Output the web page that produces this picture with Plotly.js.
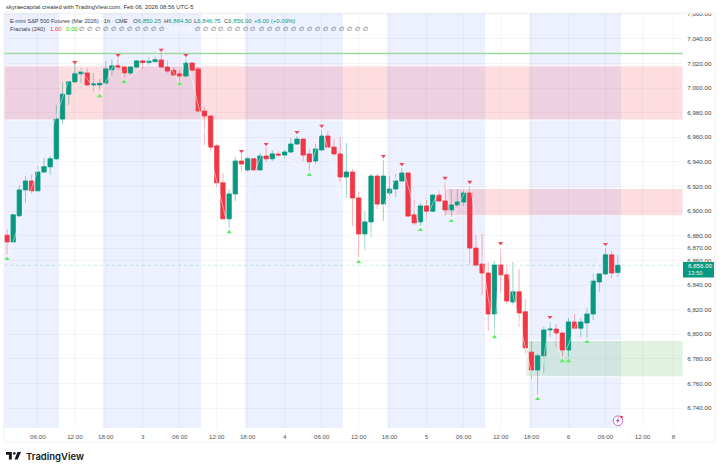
<!DOCTYPE html>
<html><head><meta charset="utf-8">
<script src="https://cdn.plot.ly/plotly-3.0.1.min.js"></script>
<style>html,body{margin:0;padding:0;background:#fff}#c{width:720px;height:471px}</style>
</head><body><div id="c"></div>
<script>
const open=[6880.5,6875,6896.25,6917.25,6924.5,6916.5,6931.75,6936,6942.5,6974.75,6995,7005,7011.5,7012.25,7002.5,7002.5,7004,7014.75,7018,7017,
7012.25,7017,7022,7020.75,7021.5,7022.75,7017,7014.5,7011.5,7009.75,7020.25,7015.5,6981.25,6977.25,6953,6923,6893.75,6914,6940.75,6933.5,
6942.5,6933.5,6944.75,6942.5,6946.5,6945.5,6948,6954.5,6958.5,6946.5,6940.75,6949.75,6961,6952,6946.5,6927.75,6931.75,6910.75,6881.5,6891.25,
6928.5,6905.75,6914.75,6918,6924.5,6931,6897,6891.25,6904.25,6900,6913,6908.25,6901,6905,6907.5,6914.75,6870,6857,6849.75,6816.5,
6856.25,6848.25,6826.25,6834.5,6818.25,6785.5,6771,6782.5,6803.5,6804.25,6801,6787.25,6810,6805,6809.25,6816.5,6842.5,6849,6864.5,6850.25];
const high=[6885.5,6897.5,6921.25,6928.5,6929.5,6936.75,6943.25,6944.75,6986.25,7005,7006.5,7019.5,7016.25,7016.25,7012.25,7007.25,7022,7023.5,7025.25,7018,
7017.5,7022.75,7022.75,7024.5,7025.25,7028.5,7022.75,7017,7014.5,7025.25,7021,7017,6984.5,6978,6954.5,6931,6918,6944,6947.25,6944,
6943.25,6947.25,6952,6949.75,6948.75,6949.75,6959.5,6961,6959.5,6950.5,6954.5,6966,6965,6958.5,6960.25,6955.25,6934.25,6915.5,6900,6930.25,
6930.25,6941.5,6928.5,6930.25,6935,6931.75,6909,6906.5,6909,6914,6917.25,6923.75,6918,6918,6916.5,6920.5,6880.5,6881.5,6858.75,6859.5,
6870,6857,6858.75,6853,6828.75,6794.5,6784,6806,6810.75,6808.5,6802,6813.25,6816.5,6813.25,6821.5,6849,6849.75,6870,6867.5,6864.5];
const low=[6864.5,6874.5,6895.25,6906.5,6914.75,6916.25,6931,6929.5,6941.5,6970.75,6986.25,7004,7004,7001.5,6997.5,6998.5,7002.5,7009.75,7014.75,7008,
7010.5,7016.25,7015.5,7018.75,7020.25,7016.25,7012.25,7010.25,7005,7009,7014.25,6980.5,6953.75,6948.75,6919.5,6893.5,6886.25,6908.25,6931.75,6931.75,
6932.5,6933,6940,6940.75,6944,6942.5,6947.25,6953.75,6940.75,6932.5,6938.25,6948.75,6950.5,6944.75,6923.75,6910.75,6888,6862.75,6868.5,6879,
6901.75,6892,6913,6911.5,6923.75,6895.25,6888.75,6888,6893.5,6899.25,6907.5,6896,6895.25,6902.5,6904.25,6856.25,6854.5,6832,6802.75,6800.25,
6833.5,6824.5,6823.75,6806,6784.75,6763.75,6750.75,6768.5,6797.75,6789.75,6781.5,6781.5,6803.5,6797.75,6797,6811.5,6834.5,6848.25,6845.75,6846.75];
const close=[6875,6897,6917.25,6924.5,6916.5,6931.75,6936,6942.5,6974.75,6995,7005,7011.5,7013,7002.5,7003.25,7003.75,7015.5,7018,7017,7012.25,
7017,7022,7020.75,7021.75,7023,7017,7013.75,7010.5,7009.75,7020.25,7014.5,6981.25,6977.25,6952,6923,6893.75,6914,6940.75,6938.25,6942.5,
6933.5,6944.75,6942.5,6946.5,6945.5,6948,6954.5,6958.5,6945.5,6940,6950.5,6961,6952,6946.5,6927.75,6931.75,6910.75,6881.5,6891.25,6928.5,
6905.75,6928.5,6918,6924.5,6931,6896,6890.5,6904.25,6900,6913,6908.25,6901,6905,6907.5,6914.75,6870,6856.25,6849.75,6816.5,6856.25,
6848.25,6827,6834.5,6817.25,6789,6771,6782.5,6803.5,6804.25,6801,6787.25,6810,6805,6810,6816.5,6843.25,6849,6864.5,6849.75,6856];

const fractalHighIdx=[11,18,25,29,38,42,47,51,61,64,71,75,80,88,97];
const fractalHighVal=[7021,7026.75,7031,7026.75,6948.75,6954.5,6964.25,6969.25,6944.75,6938.25,6927,6923.75,6874,6814,6873.25];
const fractalLowIdx=[0,15,19,28,36,49,57,67,72,79,86,90,91,94];
const fractalLowVal=[6861.25,6993.5,7005,7003.25,6883,6929.5,6858.75,6884.75,6892,6797.75,6747.5,6778.25,6778.25,6793.75];

const zigzagIdx=[0,11,15,18,19,25,28,29,36,42,49,51,57,64,67,71,72,75,79,80,86,88,90,97];
const zigzagVal=[6861,7021,6993.5,7026.75,7005,7031,7003,7027,6883,6954.5,6929.5,6969,6859,6938,6885,6927,6892,6924,6798,6874,6747.5,6814,6778,6873];

const sessionStart=[-0.5,15.56,38.57,61.6,84.6];
const sessionEnd=[8.43,31.44,54.46,77.5,99.5];

const zoneStart=[-0.5,70.9,84.1];
const zoneTop=[7018,6918.5,6795];
const zoneBottom=[6974,6896.25,6765.5];
const zoneFill=['rgba(242,54,69,0.17)','rgba(242,54,69,0.17)','rgba(76,175,80,0.17)'];

const resistance=7028;
const lastPrice=6856;

const yTicks=[7060,7040,7020,7000,6980,6960,6940,6920,6900,6880,6870,6860,6840,6820,6800,6780,6760,6740];
const xTickIdx=[5,11,16,22,28,34,39,45,51,57,62,68,74,80,85,91,97,103,108];
const xTickText=['06:00','12:00','18:00','3','06:00','12:00','18:00','4','06:00','12:00','18:00','5','06:00','12:00','18:00','6','06:00','12:00','8'];

const GREEN='#089981', RED='#F23645';
const FONT='"Liberation Sans", Arial, sans-serif';
const W=720,H=471,L=4,R=683,T=13,B=428;
const px=x=>(x-L)/(R-L), py=y=>(B-y)/(B-T);
const idx=open.map((_,i)=>i);
const fmt=v=>v.toLocaleString('en-US',{minimumFractionDigits:2,maximumFractionDigits:2});

const wicks={type:'candlestick',x:idx,open,high,low,close,hoverinfo:'skip',showlegend:false,whiskerwidth:0,
  increasing:{line:{color:'rgba(8,153,129,0.42)',width:1},fillcolor:'rgba(8,153,129,0.3)'},
  decreasing:{line:{color:'rgba(242,54,69,0.38)',width:1},fillcolor:'rgba(242,54,69,0.3)'}};
const bodies={type:'candlestick',x:idx,open,close,
  high:open.map((o,i)=>Math.max(o,close[i])),low:open.map((o,i)=>Math.min(o,close[i])),
  hoverinfo:'skip',showlegend:false,whiskerwidth:0,
  increasing:{line:{color:GREEN,width:0.5},fillcolor:GREEN},
  decreasing:{line:{color:RED,width:0.5},fillcolor:RED}};
const zigzag={type:'scatter',mode:'lines',x:zigzagIdx,y:zigzagVal,line:{color:'rgba(255,255,255,0.5)',width:1},hoverinfo:'skip',showlegend:false};
const fHigh={type:'scatter',mode:'markers',x:fractalHighIdx,y:fractalHighVal,marker:{symbol:'triangle-down',size:4.5,color:'#F2495A',line:{width:0}},hoverinfo:'skip',showlegend:false};
const fLow={type:'scatter',mode:'markers',x:fractalLowIdx,y:fractalLowVal,marker:{symbol:'triangle-up',size:4.5,color:'#55F055',line:{width:0}},hoverinfo:'skip',showlegend:false};

const shapes=[];
sessionStart.forEach((s,i)=>shapes.push({type:'rect',layer:'below',xref:'x',yref:'paper',x0:s,x1:sessionEnd[i],y0:0,y1:1,fillcolor:'rgba(41,98,255,0.085)',line:{width:0}}));
zoneStart.forEach((s,i)=>shapes.push({type:'rect',layer:'below',xref:'x',yref:'y',x0:s,x1:109.56,y0:zoneBottom[i],y1:zoneTop[i],fillcolor:zoneFill[i],line:{color:'rgba(255,255,255,0.9)',width:1}}));
shapes.push({type:'line',layer:'below',xref:'paper',yref:'y',x0:0,x1:1,y0:resistance,y1:resistance,line:{color:'#9FD8A2',width:1.6}});
shapes.push({type:'line',layer:'below',xref:'paper',yref:'y',x0:0,x1:1,y0:lastPrice,y1:lastPrice,line:{color:'rgba(8,153,129,0.28)',width:0.8,dash:'dot'}});
// page furniture
shapes.push({type:'rect',layer:'above',xref:'paper',yref:'paper',x0:px(0),x1:px(720),y0:py(13),y1:py(0),fillcolor:'#fff',line:{width:0}});
shapes.push({type:'rect',layer:'above',xref:'paper',yref:'paper',x0:px(4),x1:px(715),y0:py(442),y1:py(13),fillcolor:'rgba(0,0,0,0)',line:{color:'#f0f0f0',width:1}});
shapes.push({type:'rect',layer:'above',xref:'paper',yref:'paper',x0:px(683),x1:px(714),y0:py(277.5),y1:py(262),fillcolor:GREEN,line:{width:0}});

function note(text,x,y,size,color,anchor){
  return {text,xref:'paper',yref:'paper',x:px(x),y:py(y),xanchor:anchor||'left',yanchor:'middle',showarrow:false,borderpad:0,
    font:{family:FONT,size,color}};
}
const LEG='#3a3e4a';
const annotations=[
  note('skyraecapital created with TradingView.com, Feb 06, 2026 08:56 UTC-5',5,7,5.9,'#333'),
  note('E-mini S&P 500 Futures (Mar 2026) · 1h · CME',9,20.5,5.6,LEG),
  note('O<span style="color:#089981">6,850.25</span>',131.7,20.5,6,LEG),
  note('H<span style="color:#089981">6,864.50</span>',162.7,20.5,6,LEG),
  note('L<span style="color:#089981">6,846.75</span>',193,20.5,6,LEG),
  note('C<span style="color:#089981">6,856.00</span>',223,20.5,6,LEG),
  note('+6.00 (+0.09%)',252.7,20.5,6,GREEN),
  note('Fractals (240)',9,29,5.7,LEG),
  note('1.00',49,29,6,RED),
  note('0.00',64.5,29,6,'#00D800'),
  note('6,876.00',168,29,6,'rgba(255,255,255,0.85)'),
  note('6,856.00',687,265.7,6.2,'#fff'),
  note('13:50',687,272.5,5.8,'#E4F5F1'),
  note('TradingView',25,456,9.5,'#131722'),
];
annotations[annotations.length-1].font.family='Inter, "Liberation Sans", sans-serif';
annotations[annotations.length-1].font.weight=600;
const nullCells=[];
for(let k=0;k<11;k++) nullCells.push(81+8*k);
for(let k=0;k<22;k++) nullCells.push(197+8*k);
nullCells.forEach(x=>annotations.push(note('∅',x,29,6,'#50535e','center')));

const uri=s=>'data:image/svg+xml;charset=utf-8,'+encodeURIComponent(s);
const tvLogo='<svg xmlns="http://www.w3.org/2000/svg" viewBox="0 5 36 18" width="144" height="72"><path fill="#131722" d="M14 6H0v6h7v10h7zM28 22h-7.5l7-16H36z"/><circle cx="20" cy="9" r="3" fill="#131722"/></svg>';
const bolt='<svg xmlns="http://www.w3.org/2000/svg" viewBox="0 0 24 24" width="96" height="96"><circle cx="12" cy="12.5" r="9.6" fill="#fff" stroke="#C45FD0" stroke-width="1.8"/><path fill="#B44FC8" d="M14 6l-6.500 7.500H11l-1.500 5 6.500-7.500H12.500z"/><circle cx="19" cy="5" r="2.600" fill="#F23645"/></svg>';
const images=[
  {source:uri(tvLogo),xref:'paper',yref:'paper',x:px(6),y:py(451.5),sizex:15/(R-L),sizey:8.6/(B-T),xanchor:'left',yanchor:'top',sizing:'stretch',layer:'above'},
  {source:uri(bolt),xref:'paper',yref:'paper',x:px(612),y:py(414.5),sizex:12/(R-L),sizey:12/(B-T),xanchor:'left',yanchor:'top',sizing:'stretch',layer:'above'}
];

const layout={width:W,height:H,autosize:false,showlegend:false,paper_bgcolor:'#fff',plot_bgcolor:'#fff',boxmode:'overlay',boxgap:0.3,boxgroupgap:0,
  margin:{l:L,r:W-R,t:T,b:H-B,pad:0},
  xaxis:{type:'linear',range:[-0.486,109.56],tickmode:'array',tickvals:xTickIdx,ticktext:xTickText,showgrid:true,gridcolor:'rgba(0,0,0,0.035)',gridwidth:1,
    zeroline:false,showline:false,ticks:'outside',ticklen:3,tickcolor:'rgba(0,0,0,0)',tickfont:{family:FONT,size:6.2,color:'#555'},rangeslider:{visible:false},tickangle:0,fixedrange:true},
  yaxis:{type:'linear',side:'right',range:[6723.9,7060.9],tickmode:'array',tickvals:yTicks,ticktext:yTicks.map(fmt),showgrid:true,gridcolor:'rgba(0,0,0,0.03)',gridwidth:1,
    zeroline:false,showline:false,ticks:'outside',ticklen:2,tickcolor:'rgba(0,0,0,0)',tickfont:{family:FONT,size:6.2,color:'#444'},fixedrange:true},
  shapes,annotations,images};
Plotly.newPlot('c',[zigzag,wicks,bodies,fHigh,fLow],layout,{displayModeBar:false,staticPlot:true});
</script></body></html>
